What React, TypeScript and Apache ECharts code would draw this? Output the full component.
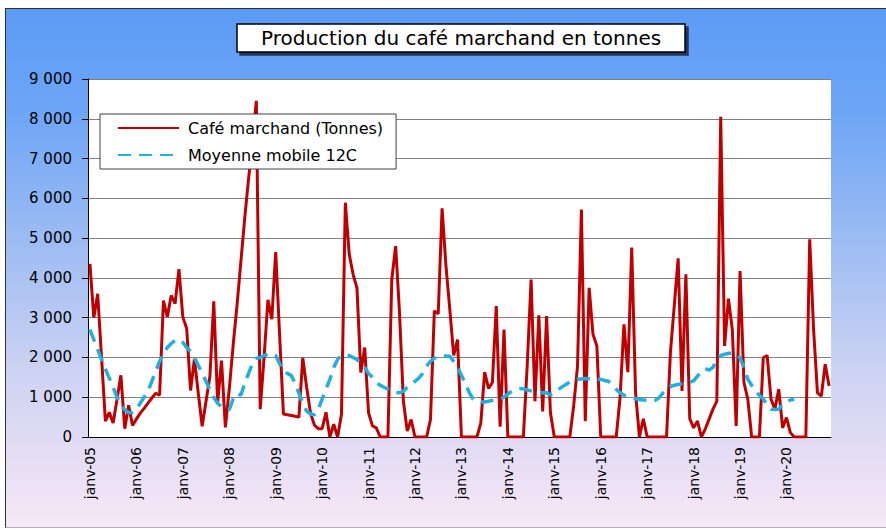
import React, { useEffect, useRef } from "react";
import * as echarts from "echarts";

const YEARS = [2005, 2006, 2007, 2008, 2009, 2010, 2011, 2012, 2013, 2014, 2015, 2016, 2017, 2018, 2019, 2020];
const MONTHS = ["janv", "févr", "mars", "avr", "mai", "juin", "juil", "août", "sept", "oct", "nov", "déc"];

// Café marchand (Tonnes), monthly, janv-05 .. déc-20
const production = [
  4350, 3000, 3600, 2000, 400, 620, 350, 950, 1550, 210, 800, 290,
  450, 600, 720, 850, 980, 1100, 1050, 3430, 3020, 3560, 3350, 4220,
  3020, 2730, 1170, 1960, 1100, 270, 900, 1520, 3410, 870, 1920, 240,
  1200, 2300, 3300, 4400, 5500, 6500, 7400, 8450, 700, 2000, 3450, 2960,
  4650, 2600, 580, 560, 540, 520, 500, 1990, 1250, 600, 300, 210,
  210, 620, 0, 320, 0, 570, 5890, 4600, 4090, 3750, 1620, 2250,
  610, 280, 230, 0, 0, 0, 3960, 4800, 3120, 900, 150, 440,
  0, 0, 0, 0, 440, 3170, 3100, 5750, 4300, 3200, 2050, 2450,
  0, 0, 0, 0, 0, 350, 1630, 1220, 1370, 3290, 260, 2700,
  0, 0, 0, 0, 0, 1800, 3960, 900, 3060, 640, 3040, 610,
  0, 0, 0, 0, 0, 780, 1780, 5720, 400, 3750, 2580, 2290,
  0, 0, 0, 0, 0, 1000, 2830, 1630, 4760, 1110, 0, 460,
  0, 0, 0, 0, 0, 0, 2120, 3300, 4490, 1160, 4090, 460,
  230, 400, 0, 200, 450, 700, 900, 8050, 2290, 3480, 2700, 280,
  4170, 1370, 950, 0, 0, 0, 1990, 2050, 950, 700, 1200, 230,
  490, 110, 0, 0, 0, 0, 4970, 2700, 1110, 1030, 1830, 1280,
];

// Moyenne mobile 12C, janv-05 .. mars-20
const moyenneMobile = [
  2700, 2450, 2200, 1950, 1700, 1480, 1250, 1000, 800, 680, 610, 620,
  700, 850, 1000, 1150, 1400, 1650, 1900, 2100, 2250, 2350, 2430, 2450,
  2380, 2250, 2150, 2000, 1800, 1600, 1400, 1200, 1000, 850, 760, 700,
  690, 950, 1100, 1050, 1350, 1600, 1850, 1980, 2000, 2050, 2080, 2100,
  2050, 1850, 1650, 1600, 1550, 1350, 1100, 850, 650, 580, 560, 700,
  950, 1200, 1450, 1750, 1950, 2050, 2070, 2050, 2000, 1950, 1850, 1750,
  1600, 1500, 1380, 1300, 1250, 1200, 1150, 1120, 1110, 1150, 1250, 1320,
  1400, 1480, 1600, 1780, 1900, 1980, 2020, 2035, 2035, 2030, 1900, 1750,
  1550, 1350, 1120, 950, 900, 880, 880, 900, 920, 930, 950, 1000,
  1080, 1150, 1190, 1210, 1210, 1180, 1160, 1140, 1120, 1110, 1110, 1060,
  1100, 1190, 1260, 1320, 1380, 1430, 1450, 1460, 1470, 1465, 1460, 1450,
  1450, 1420, 1400, 1300, 1200, 1110, 1050, 1020, 990, 960, 940, 930,
  920, 905, 920, 980, 1100, 1230, 1270, 1300, 1320, 1340, 1350, 1380,
  1410, 1530, 1650, 1720, 1680, 1750, 1950, 2050, 2080, 2100, 2120, 2080,
  1990, 1750, 1450, 1300, 1160, 1050, 950, 820, 700, 690, 700, 820,
  880, 930, 950,
];

const SERIES_NAMES = ["Café marchand (Tonnes)", "Moyenne mobile 12C"];
const TITLE = "Production du café marchand en tonnes";
const Y_MIN = 0;
const Y_MAX = 9000;
const Y_STEP = 1000;

const categories = YEARS.flatMap((y) =>
  MONTHS.map((m) => `${m}-${String(y % 100).padStart(2, "0")}`)
);

const FONT = "DejaVu Sans";

function fmt(v: number): string {
  return String(v).replace(/\B(?=(\d{3})+(?!\d))/g, " ");
}

export default function App() {
  const ref = useRef<HTMLDivElement>(null);

  useEffect(() => {
    document.body.style.margin = "0";
    if (!ref.current) return;
    const chart = echarts.init(ref.current, undefined, { renderer: "svg" });
    chart.setOption({
      animation: false,
      backgroundColor: "transparent",
      title: {
        text: TITLE,
        left: 237,
        top: 24,
        padding: [4, 24, 4, 24],
        backgroundColor: "#ffffff",
        borderColor: "#000000",
        borderWidth: 1.5,
        shadowColor: "rgba(0,0,0,0.65)",
        shadowOffsetX: 3,
        shadowOffsetY: 3,
        shadowBlur: 0,
        textStyle: {
          fontFamily: FONT,
          fontSize: 20,
          fontWeight: "normal",
          color: "#000000",
        },
      },
      legend: {
        orient: "vertical",
        left: 100,
        top: 114,
        padding: [6, 13, 6, 17],
        itemWidth: 61,
        itemHeight: 12,
        itemGap: 11,
        backgroundColor: "#ffffff",
        borderColor: "#404040",
        borderWidth: 1,
        data: SERIES_NAMES,
        itemStyle: { opacity: 0 },
        textStyle: {
          fontFamily: FONT,
          fontSize: 16,
          color: "#000000",
          padding: [0, 0, 0, 4],
        },
      },
      grid: {
        left: 88,
        top: 79,
        right: 55,
        bottom: 93,
        show: true,
        backgroundColor: "#ffffff",
        borderWidth: 0,
      },
      xAxis: {
        type: "category",
        data: categories,
        boundaryGap: true,
        axisLine: { lineStyle: { color: "#000000", width: 1 } },
        axisTick: {
          interval: (i: number) => i % 12 === 0,
          length: 5,
          lineStyle: { color: "#000000" },
        },
        axisLabel: {
          interval: (i: number) => i % 12 === 0,
          rotate: 90,
          margin: 10,
          fontFamily: FONT,
          fontSize: 14,
          color: "#000000",
        },
        splitLine: { show: false },
      },
      yAxis: {
        type: "value",
        min: Y_MIN,
        max: Y_MAX,
        interval: Y_STEP,
        axisLine: { show: true, lineStyle: { color: "#000000", width: 1 } },
        axisTick: { show: true, length: 6, lineStyle: { color: "#000000" } },
        axisLabel: {
          formatter: (v: number) => fmt(v),
          margin: 16,
          fontFamily: FONT,
          fontSize: 15,
          color: "#000000",
        },
        splitLine: { show: true, lineStyle: { color: "#808080", width: 1 } },
      },
      series: [
        {
          name: SERIES_NAMES[0],
          type: "line",
          data: production,
          symbol: "none",
          lineStyle: { color: "#c00000", width: 3 },
          itemStyle: { color: "#c00000" },
        },
        {
          name: SERIES_NAMES[1],
          type: "line",
          data: moyenneMobile,
          symbol: "none",
          lineStyle: { color: "#1fb0e3", width: 3.5, type: [13, 8] },
          itemStyle: { color: "#1fb0e3" },
        },
      ],
    });
    return () => chart.dispose();
  }, []);

  return (
    <div style={{ position: "relative", width: 886, height: 530, background: "#ffffff", overflow: "hidden" }}>
      <div
        style={{
          position: "absolute",
          left: 5,
          top: 8,
          width: 881,
          height: 520,
          boxSizing: "border-box",
          borderTop: "1px solid #303030",
          borderLeft: "1px solid #303030",
          borderBottom: "1px solid #b0b0b0",
          background:
            "linear-gradient(to bottom, #5b9bf6 0%, #6ea6f6 20%, #9dbcf3 45%, #cdd3f3 70%, #e3dcf4 85%, #f8e8f7 100%)",
        }}
      />
      <div ref={ref} style={{ position: "absolute", left: 0, top: 0, width: 886, height: 530 }} />
    </div>
  );
}
